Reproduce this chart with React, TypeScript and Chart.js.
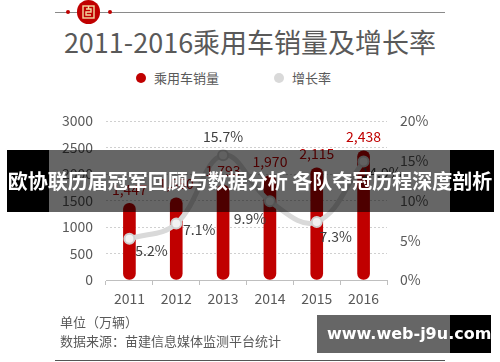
import React, { useEffect, useRef } from "react";
import { Chart, registerables } from "chart.js";
Chart.register(...registerables);

const years = ["2011", "2012", "2013", "2014", "2015", "2016"];
const sales = [1447, 1550, 1793, 1970, 2115, 2438];
const growth = [5.2, 7.1, 15.7, 9.9, 7.3, 14.9];
const salesAxis = { min: 0, max: 3000, step: 500 };
const growthAxis = { min: 0, max: 20, step: 5 };

const FONT = "'Noto Sans CJK SC', 'Noto Sans', sans-serif";
const RED = "#C00000";
const TEXT = "#595959";

// label offsets relative to points (style, not data)
const growthLabelOffsets: [number, number][] = [
  [22, 12],
  [23, 6],
  [0, -18],
  [-20, 17],
  [19, 15],
  [18, 11],
];

const labelPlugin = {
  id: "valueLabels",
  afterDatasetsDraw(chart: any) {
    const ctx = chart.ctx;
    ctx.save();
    ctx.font = `14px ${FONT}`;
    ctx.textAlign = "center";
    ctx.textBaseline = "middle";
    const barMeta = chart.getDatasetMeta(0);
    ctx.fillStyle = RED;
    barMeta.data.forEach((el: any, i: number) => {
      ctx.fillText(sales[i].toLocaleString("en-US"), el.x, el.y - 14);
    });
    const lineMeta = chart.getDatasetMeta(1);
    ctx.fillStyle = "#404040";
    lineMeta.data.forEach((el: any, i: number) => {
      const [dx, dy] = growthLabelOffsets[i];
      ctx.fillText(growth[i].toFixed(1) + "%", el.x + dx, el.y + dy);
    });
    ctx.restore();
  },
};

function ChartCanvas() {
  const ref = useRef<HTMLCanvasElement | null>(null);
  useEffect(() => {
    if (!ref.current) return;
    const chart = new Chart(ref.current, {
      type: "bar",
      data: {
        labels: years,
        datasets: [
          {
            type: "bar",
            label: "乘用车销量",
            data: sales,
            yAxisID: "y",
            backgroundColor: RED,
            barThickness: 12,
            borderRadius: 6,
            borderSkipped: false,
            order: 2,
          } as any,
          {
            type: "line",
            label: "增长率",
            data: growth,
            yAxisID: "y1",
            borderColor: "#d9d9d9",
            borderWidth: 5,
            tension: 0.4,
            pointRadius: 5,
            pointBackgroundColor: "#f2f2f2",
            pointBorderColor: "#d0d0d0",
            pointBorderWidth: 2,
            order: 1,
          } as any,
        ],
      },
      options: {
        responsive: false,
        animation: false,
        layout: { padding: { top: 121, left: 0, right: 0, bottom: 0 } },
        plugins: {
          legend: { display: false },
          title: { display: false },
          tooltip: { enabled: false },
        },
        scales: {
          x: {
            grid: {
              offset: true,
              drawOnChartArea: false,
              tickLength: 5,
              color: "#bfbfbf",
            },
            border: { color: "#bfbfbf" },
            ticks: { color: TEXT, font: { size: 14, family: FONT }, padding: 5 },
            afterFit: (s: any) => {
              s.height = 82;
            },
          },
          y: {
            position: "left",
            min: salesAxis.min,
            max: salesAxis.max,
            ticks: {
              stepSize: salesAxis.step,
              color: TEXT,
              font: { size: 14, family: FONT },
              padding: 13,
              callback: (v: any) => String(v),
            },
            grid: { color: "#d0d0d0", drawTicks: false },
            border: { display: false, dash: [2, 2] },
            afterFit: (s: any) => {
              s.width = 106;
            },
          },
          y1: {
            position: "right",
            min: growthAxis.min,
            max: growthAxis.max,
            ticks: {
              stepSize: growthAxis.step,
              color: TEXT,
              font: { size: 14, family: FONT },
              padding: 13,
              callback: (v: any) => v + "%",
            },
            grid: { display: false, drawTicks: false },
            border: { display: false },
            afterFit: (s: any) => {
              s.width = 113;
            },
          },
        },
      } as any,
      plugins: [labelPlugin],
    });
    return () => chart.destroy();
  }, []);
  return (
    <canvas
      ref={ref}
      width={500}
      height={362}
      style={{ position: "absolute", left: 0, top: 0, width: 500, height: 362 }}
    />
  );
}

const abs = (o: React.CSSProperties): React.CSSProperties => ({
  position: "absolute",
  ...o,
});

export default function App() {
  return (
    <div
      style={{
        position: "absolute",
        left: 0,
        top: 0,
        width: 500,
        height: 362,
        background: "#fff",
        overflow: "hidden",
        fontFamily: FONT,
      }}
    >
      {/* top decoration */}
      <div style={abs({ left: 55, top: 12, width: 390, height: 1, background: "#8a8a8a" })} />
      <div style={abs({ left: 66, top: 10, width: 4, height: 4, borderRadius: 2, background: RED })} />
      <div style={abs({ left: 108, top: 10, width: 4, height: 4, borderRadius: 2, background: RED })} />
      <div style={abs({ left: 77, top: 0, width: 23, height: 24, borderRadius: 12, background: RED })}>
        <svg width="23" height="24" style={{ position: "absolute", left: 0, top: 0 }}>
          <g stroke="#f3d9a0" strokeWidth="1.4" fill="none">
            <rect x="6" y="6" width="11" height="12" />
            <path d="M9 9 H14 V12 H9 V15 H14" />
            <path d="M11.5 6 V9" />
          </g>
        </svg>
      </div>

      {/* title */}
      <div
        style={abs({
          left: 0,
          top: 24,
          width: 500,
          textAlign: "center",
          fontSize: 27,
          lineHeight: "36px",
          color: TEXT,
        })}
      >
        2011-2016乘用车销量及增长率
      </div>

      {/* legend */}
      <div style={abs({ left: 136, top: 73, width: 10, height: 10, borderRadius: 5, background: RED })} />
      <div style={abs({ left: 154, top: 68, fontSize: 13, lineHeight: "20px", color: TEXT })}>乘用车销量</div>
      <div style={abs({ left: 274, top: 73, width: 10, height: 10, borderRadius: 5, background: "#d9d9d9" })} />
      <div style={abs({ left: 292, top: 68, fontSize: 13, lineHeight: "20px", color: TEXT })}>增长率</div>

      <ChartCanvas />

      {/* footer */}
      <div style={abs({ left: 60, top: 312, fontSize: 13, lineHeight: "20px", color: TEXT })}>单位（万辆）</div>
      <div style={abs({ left: 60, top: 331, fontSize: 13, lineHeight: "20px", color: TEXT })}>
        数据来源：苗建信息媒体监测平台统计
      </div>
      <div style={abs({ left: 55, top: 360, width: 390, height: 1, background: "#555" })} />

      {/* overlay banner */}
      <div style={abs({ left: 7, top: 150, width: 42, height: 62, background: "#000" })} />
      <div style={abs({ left: 49, top: 150, width: 401, height: 62, background: "rgba(0,0,0,0.6)" })} />
      <div style={abs({ left: 450, top: 150, width: 44, height: 62, background: "#000" })} />
      <div
        style={abs({
          left: 0,
          top: 150,
          width: 500,
          height: 62,
          lineHeight: "62px",
          textAlign: "center",
          color: "#fff",
          fontSize: 20,
          fontWeight: 700,
          whiteSpace: "nowrap",
        })}
      >
        欧协联历届冠军回顾与数据分析 各队夺冠历程深度剖析
      </div>

      {/* watermark */}
      <div style={abs({ left: 317, top: 315, width: 133, height: 38, background: "#666" })} />
      <div style={abs({ left: 450, top: 315, width: 41, height: 38, background: "#000" })} />
      <div
        style={abs({
          left: 327,
          top: 315,
          height: 38,
          lineHeight: "38px",
          color: "#fff",
          fontSize: 16,
          fontWeight: 700,
          fontFamily: "'DejaVu Sans', sans-serif",
          whiteSpace: "nowrap",
        })}
      >
        www.web-j9u.com
      </div>
    </div>
  );
}
